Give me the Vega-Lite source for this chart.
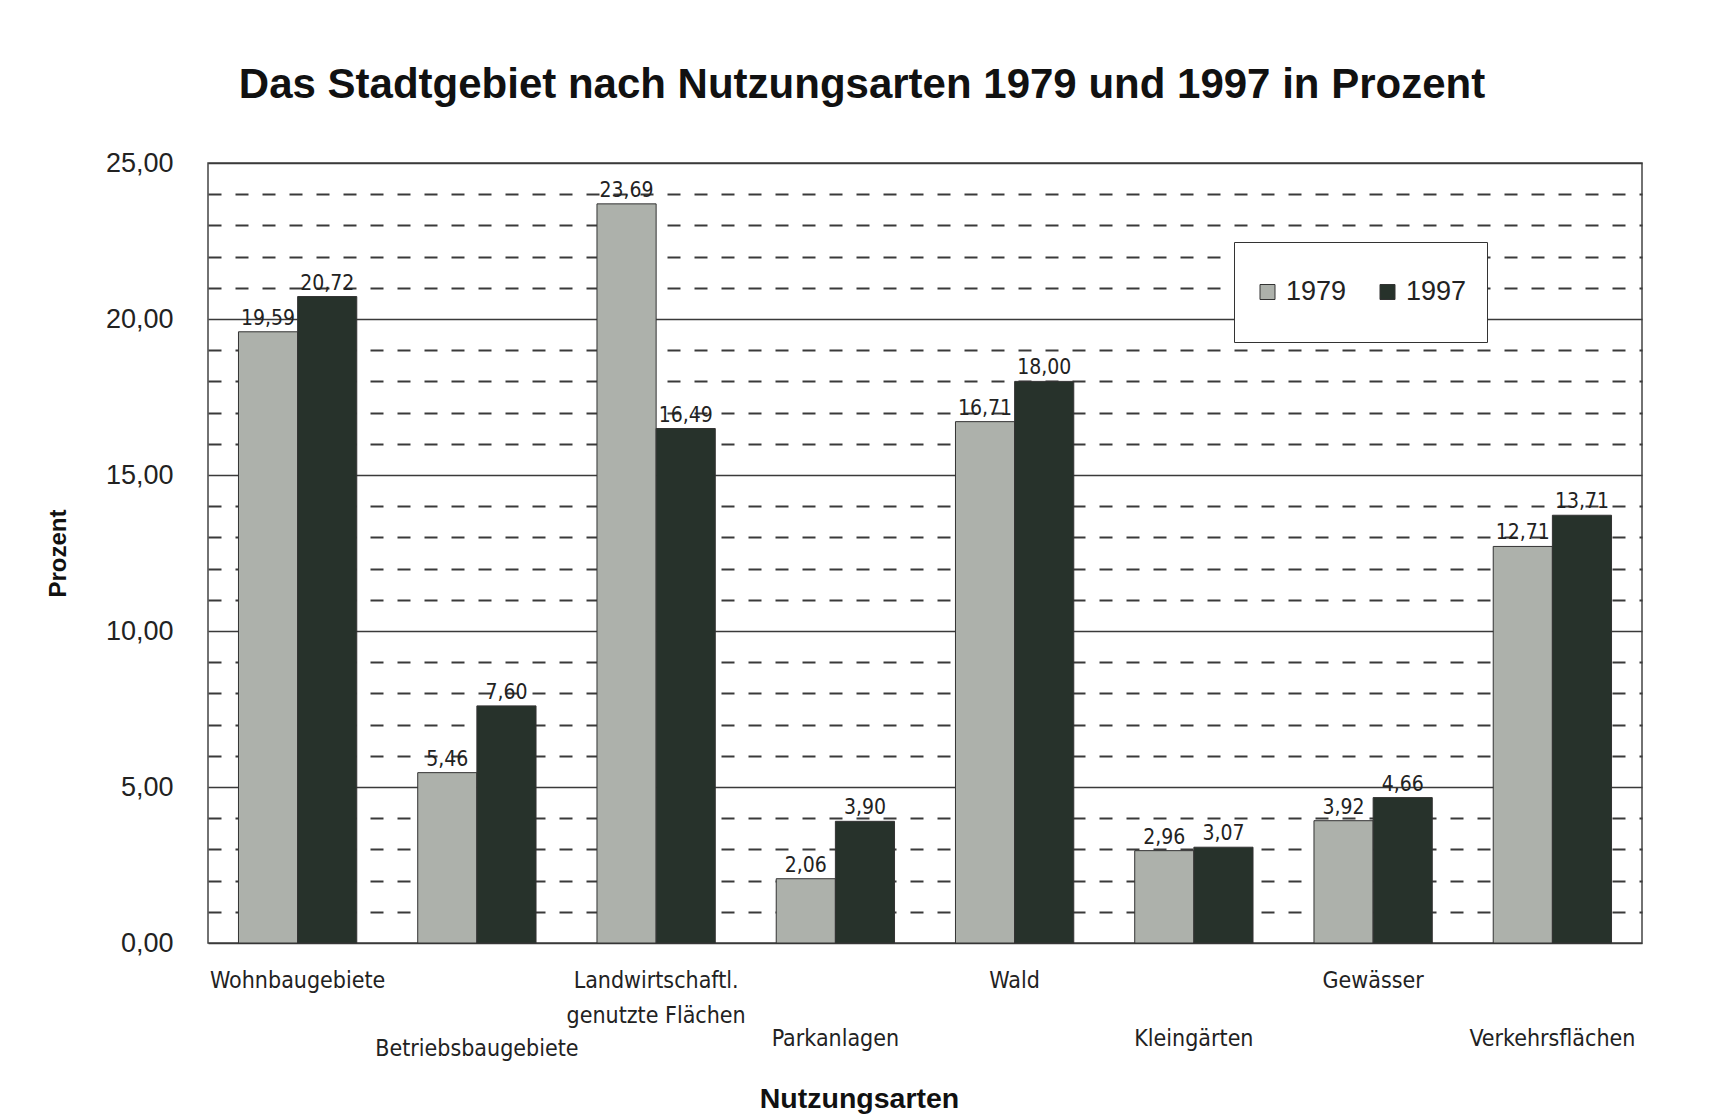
{
  "$schema": "https://vega.github.io/schema/vega-lite/v6.json",
  "autosize": {"type": "none"},
  "width": 1434,
  "height": 780,
  "padding": {"left": 208, "top": 163, "right": 74, "bottom": 172},
  "background": "white",
  "title": {
    "text": "Das Stadtgebiet nach Nutzungsarten 1979 und 1997 in Prozent",
    "font": "Liberation Sans",
    "fontSize": 42,
    "fontWeight": "bold",
    "color": "#111",
    "anchor": "middle",
    "dx": -63,
    "offset": 42
  },
  "config": {
    "locale": {"number": {"decimal": ",", "thousands": ".", "grouping": [3], "currency": ["", " €"]}},
    "view": {"stroke": "#444", "strokeWidth": 1.5}
  },
  "data": {
    "values": [
      {"Nutzungsart": "Wohnbaugebiete", "Jahr": "1979", "Prozent": 19.59},
      {"Nutzungsart": "Wohnbaugebiete", "Jahr": "1997", "Prozent": 20.72},
      {"Nutzungsart": "Betriebsbaugebiete", "Jahr": "1979", "Prozent": 5.46},
      {"Nutzungsart": "Betriebsbaugebiete", "Jahr": "1997", "Prozent": 7.60},
      {"Nutzungsart": "Landwirtschaftl. genutzte Flächen", "Jahr": "1979", "Prozent": 23.69},
      {"Nutzungsart": "Landwirtschaftl. genutzte Flächen", "Jahr": "1997", "Prozent": 16.49},
      {"Nutzungsart": "Parkanlagen", "Jahr": "1979", "Prozent": 2.06},
      {"Nutzungsart": "Parkanlagen", "Jahr": "1997", "Prozent": 3.90},
      {"Nutzungsart": "Wald", "Jahr": "1979", "Prozent": 16.71},
      {"Nutzungsart": "Wald", "Jahr": "1997", "Prozent": 18.00},
      {"Nutzungsart": "Kleingärten", "Jahr": "1979", "Prozent": 2.96},
      {"Nutzungsart": "Kleingärten", "Jahr": "1997", "Prozent": 3.07},
      {"Nutzungsart": "Gewässer", "Jahr": "1979", "Prozent": 3.92},
      {"Nutzungsart": "Gewässer", "Jahr": "1997", "Prozent": 4.66},
      {"Nutzungsart": "Verkehrsflächen", "Jahr": "1979", "Prozent": 12.71},
      {"Nutzungsart": "Verkehrsflächen", "Jahr": "1997", "Prozent": 13.71}
    ]
  },
  "resolve": {"axis": {"y": "independent", "x": "independent"}},
  "layer": [
    {
      "mark": {"type": "bar", "stroke": "#333", "strokeWidth": 1},
      "encoding": {
        "x": {
          "field": "Nutzungsart",
          "type": "nominal",
          "sort": null,
          "scale": {"paddingInner": 0.34, "paddingOuter": 0.17},
          "axis": {
            "orient": "bottom",
            "values": ["Wohnbaugebiete", "Landwirtschaftl. genutzte Flächen", "Wald", "Gewässer"],
            "title": "Nutzungsarten",
            "titleFont": "Liberation Sans",
            "titleFontSize": 28.5,
            "titleFontWeight": "bold",
            "titleColor": "#111",
            "titleX": 651,
            "titleY": 155,
            "titleBaseline": "middle",
            "titleAlign": "center",
            "labelAngle": 0,
            "labelFont": "Liberation Sans Narrow, DejaVu Sans Condensed, sans-serif",
            "labelFontSize": 23,
            "labelColor": "#222",
            "labelPadding": 26,
            "labelLineHeight": 35,
            "labelBaseline": "top",
            "labelOverlap": false,
            "labelLimit": 400,
            "labelExpr": "datum.value == 'Landwirtschaftl. genutzte Flächen' ? ['Landwirtschaftl.', 'genutzte Flächen'] : datum.value",
            "ticks": false,
            "domain": false,
            "grid": false
          }
        },
        "y": {
          "field": "Prozent",
          "type": "quantitative",
          "scale": {"domain": [0, 25], "nice": false},
          "axis": {
            "orient": "left",
            "title": "Prozent",
            "titleFont": "Liberation Sans",
            "titleFontSize": 24,
            "titleFontWeight": "bold",
            "titleColor": "#111",
            "titleX": -150,
            "titleY": 390,
            "titleAlign": "center",
            "titleBaseline": "middle",
            "values": [0, 5, 10, 15, 20, 25],
            "format": ".2f",
            "labelFont": "Liberation Sans",
            "labelFontSize": 27,
            "labelColor": "#222",
            "labelPadding": 35,
            "ticks": false,
            "domain": false,
            "grid": true,
            "gridColor": "#3a3a3a",
            "gridWidth": 1.5
          }
        },
        "xOffset": {"field": "Jahr", "type": "nominal", "scale": {"paddingInner": 0, "paddingOuter": 0}},
        "color": {
          "field": "Jahr",
          "type": "nominal",
          "scale": {"domain": ["1979", "1997"], "range": ["#adb1ab", "#27322b"]},
          "legend": {
            "orient": "none",
            "legendX": 1026,
            "legendY": 79,
            "direction": "horizontal",
            "title": null,
            "strokeColor": "#333",
            "fillColor": "white",
            "padding": 20,
            "clipHeight": 60,
            "symbolType": "square",
            "symbolSize": 225,
            "symbolStrokeColor": "#333",
            "symbolStrokeWidth": 1,
            "labelFont": "Liberation Sans",
            "labelFontSize": 27,
            "labelColor": "#222",
            "labelOffset": 5,
            "columnPadding": 27
          }
        }
      }
    },
    {
      "mark": {
        "type": "text",
        "baseline": "bottom",
        "dy": -3,
        "font": "Liberation Sans Narrow, DejaVu Sans Condensed, sans-serif",
        "fontSize": 21,
        "color": "#222"
      },
      "encoding": {
        "x": {
          "field": "Nutzungsart",
          "type": "nominal",
          "sort": null,
          "scale": {"paddingInner": 0.34, "paddingOuter": 0.17},
          "axis": {
            "orient": "bottom",
            "values": ["Betriebsbaugebiete", "Parkanlagen", "Kleingärten", "Verkehrsflächen"],
            "title": null,
            "labelAngle": 0,
            "labelFont": "Liberation Sans Narrow, DejaVu Sans Condensed, sans-serif",
            "labelFontSize": 23,
            "labelColor": "#222",
            "labelPadding": {"condition": {"test": "datum.value == 'Betriebsbaugebiete'", "value": 94}, "value": 84},
            "labelBaseline": "top",
            "labelOverlap": false,
            "labelLimit": 400,
            "ticks": false,
            "domain": false,
            "grid": false
          }
        },
        "y": {
          "field": "Prozent",
          "type": "quantitative",
          "scale": {"domain": [0, 25], "nice": false},
          "axis": {
            "orient": "left",
            "title": null,
            "values": [1, 2, 3, 4, 6, 7, 8, 9, 11, 12, 13, 14, 16, 17, 18, 19, 21, 22, 23, 24],
            "labels": false,
            "ticks": false,
            "domain": false,
            "grid": true,
            "gridColor": "#3a3a3a",
            "gridWidth": 2,
            "gridDash": [13, 14]
          }
        },
        "xOffset": {"field": "Jahr", "type": "nominal", "scale": {"paddingInner": 0, "paddingOuter": 0}},
        "text": {"field": "Prozent", "type": "quantitative", "format": ".2f"}
      }
    }
  ]
}
